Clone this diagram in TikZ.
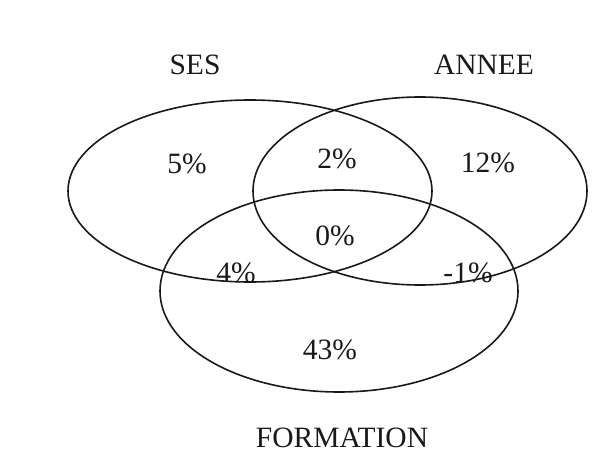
\documentclass[tikz,border=0pt]{standalone}
\usepackage{fontspec}
\setmainfont{Liberation Serif}
\usepackage{xcolor}
\definecolor{DG}{RGB}{25,25,25}
\begin{document}
\begin{tikzpicture}[
  x=1pt, y=-1pt,
  set/.style={draw=DG, line width=1.6pt},
  lbl/.style={font=\fontsize{29.5}{32}\selectfont, text=DG, inner sep=0pt},
  pct/.style={font=\fontsize{29.5}{32}\selectfont, text=DG, inner sep=0pt}
]
\useasboundingbox (0,0) rectangle (615,470);
% Sets
\draw[set] (250,191) ellipse [x radius=182, y radius=91];
\draw[set] (420,191) ellipse [x radius=167, y radius=94];
\draw[set] (339,291) ellipse [x radius=179, y radius=101];

% Set names
\node[lbl] (ses) at (195,65) {SES};
\node[lbl] (annee) at (484,65) {ANNEE};
\node[lbl] (formation) at (342,438) {FORMATION};

% Region values
\node[pct] (onlyses) at (187,164) {5\%};
\node[pct] (sesannee) at (337,159) {2\%};
\node[pct] (onlyannee) at (488,163) {12\%};
\node[pct] (all) at (335,236) {0\%};
\node[pct] (sesform) at (236,273) {4\%};
\node[pct] (anneeform) at (468,273) {-1\%};
\node[pct] (onlyform) at (330,350) {43\%};
\end{tikzpicture}
\end{document}
